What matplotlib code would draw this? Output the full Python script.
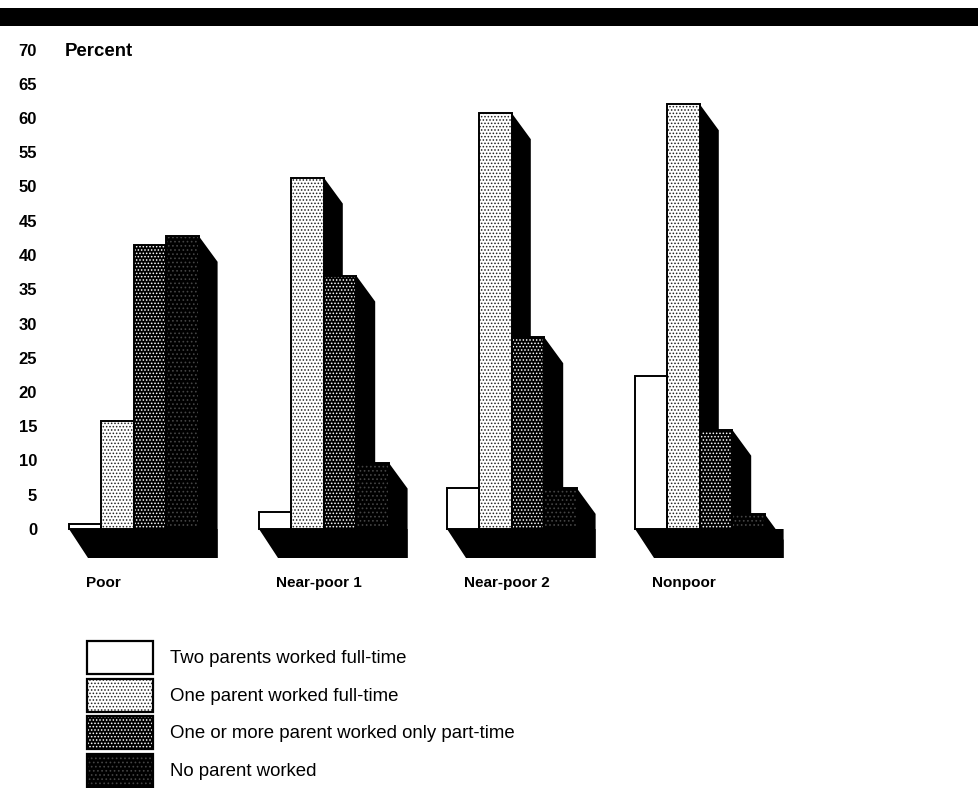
"""Children by poverty status and parental work, drawn as stippled pseudo-3D bars."""

import matplotlib

matplotlib.use("Agg")
import matplotlib.pyplot as plt
from matplotlib.legend_handler import HandlerTuple
from matplotlib.patches import Patch, Polygon, Rectangle

groups = ["Poor", "Near-poor 1", "Near-poor 2", "Nonpoor"]
series = [
    "Two parents worked full-time",
    "One parent worked full-time",
    "One or more parent worked only part-time",
    "No parent worked",
]
two_full = [0.7, 2.5, 6.0, 22.3]
one_full = [15.8, 51.3, 60.7, 62.0]
part_time = [41.5, 37.0, 28.0, 14.5]
no_work = [42.8, 9.7, 6.0, 2.2]
yticks = list(range(0, 75, 5))

# layout, in reference pixels
group_left = [69, 259, 447, 635]
bar_w = 32.4
px_per_pct = 6.85
base_y = 529
depth_x, depth_y, floor_y = 19, 26, 29

# fill, dot colour, hatch
styles = [
    ("white", "white", None),
    ("white", "#222222", "....."),
    ("black", "white", "....."),
    ("black", "#444444", "...."),
]

plt.rcParams["font.family"] = ["Liberation Sans", "DejaVu Sans"]
plt.rcParams["hatch.linewidth"] = 0.7

W, H = 979, 788
fig = plt.figure(figsize=(W / 100, H / 100), dpi=100, facecolor="white")
ax = fig.add_axes([60 / W, 0, 1 - 60 / W, 1 - 30 / H])
ax.set_xlim(60, W)
ax.set_ylim(-(H - base_y) / px_per_pct, (base_y - 30) / px_per_pct)
for s in ax.spines.values():
    s.set_visible(False)
ax.set_xticks([])
ax.set_yticks(yticks)
ax.tick_params(axis="y", length=0, pad=16.5)
for lab in ax.get_yticklabels():
    lab.set_fontsize(12)
    lab.set_fontweight("bold")

dy = depth_y / px_per_pct
dfloor = floor_y / px_per_pct

for g, left in enumerate(group_left):
    right = left + 4 * bar_w
    ax.add_patch(Polygon(
        [(left, 0), (left + depth_x, -dfloor), (right + depth_x, -dfloor),
         (right + depth_x, 0), (right, 0)],
        facecolor="black", linewidth=0, zorder=1))
    for i, vals in enumerate([two_full, one_full, part_time, no_work]):
        x1 = left + (i + 1) * bar_w
        v = vals[g]
        ax.add_patch(Polygon(
            [(x1, v), (x1 + depth_x, v - dy), (x1 + depth_x, -dfloor), (x1, -dfloor)],
            facecolor="black", linewidth=0, zorder=1))
    ax.text(left + 17, -(583 - base_y) / px_per_pct, groups[g], fontsize=11,
            fontweight="bold", va="center", ha="left")

handles = []
for i, vals in enumerate([two_full, one_full, part_time, no_work]):
    face, dots, hatch = styles[i]
    xs = [left + i * bar_w for left in group_left]
    ax.bar(xs, vals, width=bar_w, align="edge", facecolor=face, edgecolor=dots,
           hatch=hatch, linewidth=0, zorder=2)
    ax.bar(xs, vals, width=bar_w, align="edge", fill=False, edgecolor="black",
           linewidth=1.4, zorder=3)
    handles.append((Patch(facecolor=face, edgecolor=dots, hatch=hatch, linewidth=0),
                    Patch(fill=False, edgecolor="black", linewidth=1.6)))

fs = 13.45
em = fs * 100 / 72
# legend takes a descent off the handle height, so undo that for a 33 px swatch
fig.legend(handles, series, handler_map={tuple: HandlerTuple(ndivide=1, pad=0)},
           loc="upper left", bbox_to_anchor=(87 / W, 1 - 641 / H), frameon=False,
           fontsize=fs, borderpad=0, borderaxespad=0, handlelength=66 / em,
           handleheight=(33 / em - 0.245) / 0.65, labelspacing=4.5 / em,
           handletextpad=17 / em)

fig.add_artist(Rectangle((0, 1 - 26 / H), 1, 18 / H, transform=fig.transFigure,
                         facecolor="black", edgecolor="none"))
fig.text(65 / W, 1 - 52 / H, "Percent", fontsize=13.4, fontweight="bold", va="center")

fig.savefig("out.png", dpi=100)
